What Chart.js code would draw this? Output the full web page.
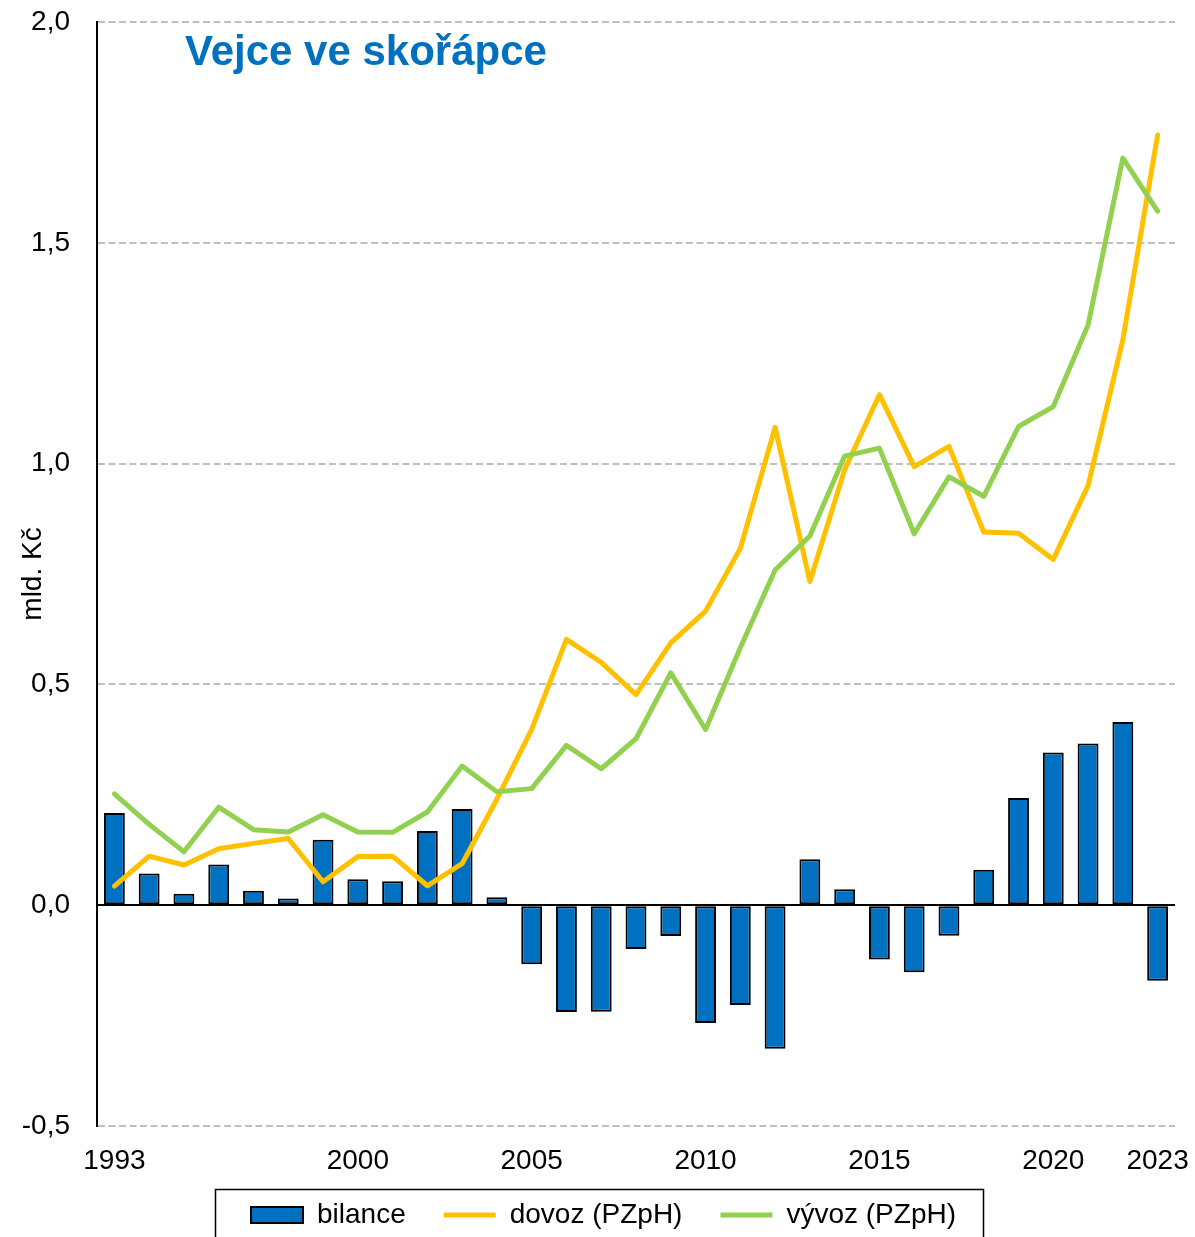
<!DOCTYPE html>
<html><head><meta charset="utf-8">
<script src="https://cdn.jsdelivr.net/npm/chart.js@4"></script>
<style>html,body{margin:0;padding:0;background:#fff}</style>
</head><body>
<canvas id="c" width="1195" height="1237"></canvas>
<script>
const chartTitle = 'Vejce ve skořápce';
const yAxisTitle = 'mld. Kč';
const years = [1993,1994,1995,1996,1997,1998,1999,2000,2001,2002,2003,2004,2005,2006,2007,2008,2009,2010,2011,2012,2013,2014,2015,2016,2017,2018,2019,2020,2021,2022,2023];
const shownYears = [1993,2000,2005,2010,2015,2020,2023];
const bilance = [0.209,0.072,0.026,0.092,0.033,0.015,0.148,0.059,0.054,0.168,0.218,0.018,-0.134,-0.242,-0.241,-0.099,-0.070,-0.267,-0.226,-0.325,0.104,0.036,-0.123,-0.152,-0.069,0.080,0.243,0.346,0.366,0.415,-0.171];
const dovoz = [0.043,0.111,0.091,0.128,0.140,0.151,0.053,0.110,0.111,0.044,0.094,0.240,0.398,0.602,0.550,0.477,0.594,0.666,0.808,1.082,0.733,0.986,1.156,0.993,1.039,0.845,0.842,0.783,0.950,1.280,1.744];
const vyvoz = [0.252,0.183,0.121,0.222,0.171,0.166,0.205,0.166,0.165,0.211,0.315,0.257,0.264,0.362,0.309,0.377,0.526,0.398,0.583,0.759,0.836,1.017,1.035,0.841,0.970,0.926,1.084,1.129,1.314,1.692,1.572];
const seriesLabels = ['bilance','dovoz (PZpH)','vývoz (PZpH)'];

const FONT = '"Liberation Sans", Arial, sans-serif';
Chart.defaults.font.family = FONT;
Chart.defaults.color = '#000';

const decor = {
  id: 'decor',
  afterLayout(chart) {
    const lg = chart.legend;
    if (lg) { lg.left += 16; lg.right += 16; lg.top -= 15; lg.bottom -= 15; }
  },
  afterDraw(chart) {
    const {ctx, chartArea} = chart;
    ctx.save();
    ctx.font = 'bold 42px ' + FONT;
    ctx.fillStyle = '#0070C0';
    ctx.textBaseline = 'alphabetic';
    ctx.textAlign = 'left';
    ctx.fillText(chartTitle, chartArea.left + 88, chartArea.top + 43);
    const lg = chart.legend;
    if (lg && lg.lineWidths) {
      const pad = lg.options.labels.padding;
      const lw = lg.lineWidths[0];
      const start = (lg.left + pad + lg.right - lw) / 2;
      const end = start + lw - pad;
      ctx.strokeStyle = '#000';
      ctx.lineWidth = 1.5;
      ctx.strokeRect(Math.round(start - 36) + 0.5, Math.round(lg.top + 26) + 0.5, Math.round(end - start + 63), 100);
    }
    ctx.restore();
  }
};

new Chart(document.getElementById('c'), {
  type: 'bar',
  data: {
    labels: years,
    datasets: [
      { type: 'bar', label: seriesLabels[0], data: bilance, backgroundColor: '#0070C0', borderColor: '#000', borderWidth: 2, borderSkipped: false, barPercentage: 0.6, categoryPercentage: 1, order: 2 },
      { type: 'line', label: seriesLabels[1], data: dovoz, borderColor: '#FFC000', backgroundColor: '#FFC000', borderWidth: 5, pointRadius: 0, pointHoverRadius: 0, tension: 0, borderCapStyle: 'round', borderJoinStyle: 'round', fill: false, order: 1 },
      { type: 'line', label: seriesLabels[2], data: vyvoz, borderColor: '#92D050', backgroundColor: '#92D050', borderWidth: 5, pointRadius: 0, pointHoverRadius: 0, tension: 0, borderCapStyle: 'round', borderJoinStyle: 'round', fill: false, order: 0 }
    ]
  },
  options: {
    responsive: false,
    animation: false,
    devicePixelRatio: 1,
    layout: { padding: { left: 0, right: 20, top: 22, bottom: -17 } },
    plugins: {
      tooltip: { enabled: false },
      legend: {
        position: 'bottom',
        labels: {
          usePointStyle: true, pointStyleWidth: 52, boxHeight: 16, padding: 38,
          font: { size: 28 }, color: '#000',
          sort: (a, b) => a.datasetIndex - b.datasetIndex,
          generateLabels(chart) {
            const items = Chart.defaults.plugins.legend.labels.generateLabels(chart);
            items.forEach(it => { it.pointStyle = it.datasetIndex === 0 ? 'rect' : 'line'; });
            return items;
          }
        }
      }
    },
    scales: {
      x: {
        offset: true,
        grid: { display: true, drawOnChartArea: false, drawTicks: true, tickLength: 18, tickWidth: 0, lineWidth: 0, color: 'rgba(0,0,0,0)', tickColor: 'rgba(0,0,0,0)' },
        border: { display: false },
        ticks: {
          autoSkip: false, maxRotation: 0, minRotation: 0, padding: 0, font: { size: 28 }, color: '#000',
          callback(v, i) { const y = years[i]; return shownYears.includes(y) ? String(y) : ''; }
        },
        afterFit(s) { s.height = 52; }
      },
      y: {
        min: -0.5, max: 2.0,
        ticks: { stepSize: 0.5, padding: 0, font: { size: 28 }, color: '#000', callback: v => Number(v).toFixed(1).replace('.', ',') },
        grid: {
          drawTicks: true, tickLength: 27, tickWidth: 0, tickColor: 'rgba(0,0,0,0)',
          color: c => (c.tick && c.tick.value === 0) ? '#000' : '#BFBFBF',
          lineWidth: 2
        },
        border: { display: true, color: '#000', width: 2, dash: c => (c.tick && c.tick.value !== 0) ? [7, 3.5] : [] },
        title: { display: true, text: yAxisTitle, font: { size: 28 }, color: '#000', padding: { top: 16, bottom: 0 } },
        afterFit(s) { s.width = 97; }
      }
    }
  },
  plugins: [decor]
});
</script>
</body></html>
